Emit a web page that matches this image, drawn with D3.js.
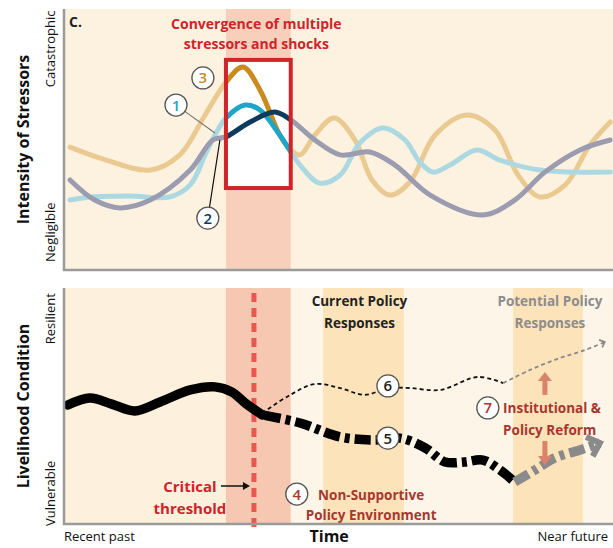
<!DOCTYPE html>
<html><head><meta charset="utf-8">
<script src="https://cdn.jsdelivr.net/npm/d3@7"></script>
<style>body{margin:0;background:#fff}svg{display:block}text{font-family:"Open Sans",sans-serif}</style>
</head><body><svg id="c" width="613" height="548"></svg>
<script>
// ---------- data ----------
const timeDomain = [0, 100];
const levelDomain = [0, 100];
const xLabels = ["Recent past", "Time", "Near future"];
const topLevels = ["Negligible", "Catastrophic"];
const bottomLevels = ["Vulnerable", "Resilient"];
// stressor 1 (blue)
const stressor1 = [[1.1,26.8],[4.7,28.0],[12.0,28.4],[19.3,28.0],[23.0,32.6],[25.7,44.1],[27.5,51.7],[29.5,58.2],[33.0,63.2],[35.7,61.3],[39.3,51.7],[43.0,40.2],[46.6,33.3],[50.3,36.4],[53.9,48.7],[58.1,54.4],[62.1,49.8],[64.8,41.4],[67.2,37.5],[70.3,40.2],[75.2,46.0],[79.4,42.1],[86.7,38.3],[99.5,37.5]];
// stressor 2 (navy)
const stressor2 = [[1.1,34.5],[5.6,26.8],[10.2,23.8],[15.7,26.8],[23.0,38.3],[27.1,49.8],[29.5,51.0],[33.9,56.7],[38.4,60.5],[41.3,57.5],[45.7,49.8],[50.3,44.1],[55.7,45.2],[60.3,40.2],[66.7,28.7],[76.3,21.1],[82.1,26.8],[87.6,37.5],[94.0,46.0],[99.5,49.8]];
// stressor 3 (tan)
const stressor3 = [[1.1,47.1],[6.6,42.9],[15.7,38.3],[21.1,44.1],[25.7,59.4],[29.5,72.0],[32.6,77.8],[35.7,69.0],[39.3,51.7],[41.3,46.0],[43.0,44.1],[45.7,51.7],[49.2,58.2],[53.0,49.8],[56.1,34.5],[59.4,28.7],[63.0,33.7],[67.6,51.7],[73.4,59.4],[78.5,53.6],[82.7,36.4],[86.7,28.0],[91.3,32.6],[95.8,47.9],[99.5,56.7]];
// livelihood
const livelihoodPast = [[0.7,50.4],[4.7,53.4],[8.7,50.8],[12.9,47.9],[17.5,51.7],[23.0,56.8],[27.5,58.1],[30.6,55.9],[33.0,51.3],[36.1,46.2]];
const livelihoodCurrent = [[36.6,46.0],[43.0,42.8],[50.3,36.9],[56.6,35.6],[61.2,36.4],[65.8,32.2],[69.4,26.3],[73.0,26.3],[76.3,27.1],[79.4,22.9],[82.1,17.8]];
const livelihoodCurrentFuture = [[82.1,17.8],[85.8,22.9],[89.4,28.0],[94.0,31.4],[97.6,34.3]];
const livelihoodAlt = [[36.1,47.0],[41.2,54.7],[45.7,59.3],[50.3,57.6],[54.8,54.7],[59.0,57.6],[63.0,57.6],[68.5,56.8],[75.4,62.3],[80.0,59.7]];
const livelihoodAltFuture = [[80.0,59.7],[84.9,65.3],[90.3,70.3],[94.9,73.7],[98.5,77.1]];
// periods
const shockWindow = [29.5, 41.3];
const thresholdTime = 34.6;
const currentPolicyBand = [47.2, 61.9];
const potentialPolicyBand = [81.8, 94.5];
const shockBoxLevels = [31.4, 80.5];
// callouts
const topCallouts = [
  {n:"1", t:20.4, v:63.2, tt:27.5, tv:52.5, color:"#1fa5c8", lead:"#777"},
  {n:"3", t:25.3, v:73.6, color:"#c98a1e"},
  {n:"2", t:26.2, v:19.9, tt:28.4, tv:49.8, color:"#0e3a5e", lead:"#111"}
];
const bottomCallouts = [
  {n:"6", t:59.0, v:58.5, color:"#222"},
  {n:"5", t:59.0, v:36.4, color:"#222"},
  {n:"4", t:42.4, v:12.7, color:"#a8372f"},
  {n:"7", t:77.2, v:49.2, color:"#a8372f"}
];

// ---------- drawing ----------
const svg = d3.select("#c");
const x = d3.scaleLinear().domain(timeDomain).range([64, 613]);
const yT = d3.scaleLinear().domain(levelDomain).range([270, 9]);
const yB = d3.scaleLinear().domain(levelDomain).range([524, 288]);
const curve = d3.curveCatmullRom.alpha(0.5);
const lineT = d3.line().x(d=>x(d[0])).y(d=>yT(d[1])).curve(curve);
const lineB = d3.line().x(d=>x(d[0])).y(d=>yB(d[1])).curve(curve);

// top panel background
svg.append("rect").attr("x", x(0)).attr("y", yT(100)).attr("width", x(100)-x(0)).attr("height", yT(0)-yT(100)).attr("fill", "#fdf2e0");
svg.append("rect").attr("x", x(shockWindow[0])).attr("y", yT(100)).attr("width", x(shockWindow[1])-x(shockWindow[0])).attr("height", yT(0)-yT(100)).attr("fill", "#f8cfbb");

const faded = [[stressor3,"#ebca92"],[stressor1,"#acd9e1"],[stressor2,"#9c9cb1"]];
faded.forEach(([d,c]) => svg.append("path").attr("d", lineT(d)).attr("fill","none").attr("stroke",c).attr("stroke-width",5).attr("stroke-linecap","round"));

// box
const bx0 = x(shockWindow[0]), bx1 = x(shockWindow[1]);
const by0 = yT(shockBoxLevels[1]), by1 = yT(shockBoxLevels[0]);
svg.append("rect").attr("x", bx0).attr("y", by0).attr("width", bx1-bx0).attr("height", by1-by0).attr("fill","#fff");
svg.append("clipPath").attr("id","boxclip").append("rect").attr("x", bx0).attr("y", by0).attr("width", bx1-bx0).attr("height", by1-by0);
const dark = [[stressor3,"#c98a1e"],[stressor1,"#1fa5c8"],[stressor2,"#0e3a5e"]];
dark.forEach(([d,c]) => svg.append("path").attr("d", lineT(d)).attr("clip-path","url(#boxclip)").attr("fill","none").attr("stroke",c).attr("stroke-width",5));
svg.append("rect").attr("x", bx0).attr("y", by0).attr("width", bx1-bx0).attr("height", by1-by0).attr("fill","none").attr("stroke","#d0232a").attr("stroke-width",4);

// callouts top
topCallouts.forEach(c => {
  if (c.tt !== undefined) {
    const ang = Math.atan2(yT(c.tv)-yT(c.v), x(c.tt)-x(c.t));
    svg.append("line").attr("x1", x(c.t)+10*Math.cos(ang)).attr("y1", yT(c.v)+10*Math.sin(ang))
      .attr("x2", x(c.tt)).attr("y2", yT(c.tv)).attr("stroke", c.lead).attr("stroke-width",1.2);
  }
  svg.append("circle").attr("cx", x(c.t)).attr("cy", yT(c.v)).attr("r", 11).attr("fill","#fff").attr("stroke","#555").attr("stroke-width",1.3);
  svg.append("text").attr("x", x(c.t)).attr("y", yT(c.v)+5.5).attr("text-anchor","middle").attr("font-size",15).attr("font-weight",600).attr("fill",c.color).text(c.n);
});

svg.append("text").attr("x", 69).attr("y", 27).attr("font-size",14).attr("font-weight",700).attr("fill","#222").text("C.");
const conv = svg.append("text").attr("text-anchor","middle").attr("font-size",14).attr("font-weight",700).attr("fill","#d0232a");
conv.append("tspan").attr("x",(bx0+bx1)/2-2).attr("y",29).text("Convergence of multiple");
conv.append("tspan").attr("x",(bx0+bx1)/2-2).attr("y",49).text("stressors and shocks");

// top axes
svg.append("path").attr("d", `M${x(0)},${yT(100)}V${yT(0)}H${x(100)}`).attr("fill","none").attr("stroke","#9a9a9a").attr("stroke-width",2.5);

// bottom panel background
svg.append("rect").attr("x", x(0)).attr("y", yB(100)).attr("width", x(100)-x(0)).attr("height", yB(0)-yB(100)).attr("fill", "#fdf0dc");
svg.append("rect").attr("x", x(shockWindow[1])).attr("y", yB(100)).attr("width", x(100)-x(shockWindow[1])).attr("height", yB(0)-yB(100)).attr("fill", "#fef5e9");
svg.append("rect").attr("x", x(shockWindow[0])).attr("y", yB(100)).attr("width", x(shockWindow[1])-x(shockWindow[0])).attr("height", yB(0)-yB(100)).attr("fill", "#f6c8b2");
[currentPolicyBand, potentialPolicyBand].forEach(b => svg.append("rect").attr("x", x(b[0])).attr("y", yB(100)).attr("width", x(b[1])-x(b[0])).attr("height", yB(0)-yB(100)).attr("fill", "#fde3ba"));

// threshold
svg.append("line").attr("x1", x(thresholdTime)).attr("x2", x(thresholdTime)).attr("y1", yB(100)+5).attr("y2", yB(0)+3).attr("stroke","#e8584f").attr("stroke-width",5).attr("stroke-dasharray","9,6");

// lines
svg.append("path").attr("d", lineB(livelihoodAlt)).attr("fill","none").attr("stroke","#111").attr("stroke-width",1.8).attr("stroke-dasharray","4,3");
svg.append("path").attr("d", lineB(livelihoodAltFuture)).attr("fill","none").attr("stroke","#8a8a8a").attr("stroke-width",1.8).attr("stroke-dasharray","4,3");
svg.append("path").attr("d", lineB(livelihoodPast)).attr("fill","none").attr("stroke","#000").attr("stroke-width",9.5).attr("stroke-linecap","round");
svg.append("path").attr("d", lineB(livelihoodCurrent)).attr("fill","none").attr("stroke","#000").attr("stroke-width",9.5).attr("stroke-dasharray","16,5,5,5");
svg.append("path").attr("d", lineB(livelihoodCurrentFuture)).attr("fill","none").attr("stroke","#8a8a8a").attr("stroke-width",9.5).attr("stroke-dasharray","16,5,5,5");

function chevron(data, len, w, color) {
  const a = data[data.length-2], b = data[data.length-1];
  const x1 = x(a[0]), y1 = yB(a[1]), x2 = x(b[0]), y2 = yB(b[1]);
  const ang = Math.atan2(y2-y1, x2-x1);
  const p1 = [x2 + len*Math.cos(ang+2.4), y2 + len*Math.sin(ang+2.4)];
  const p2 = [x2 + len*Math.cos(ang-2.4), y2 + len*Math.sin(ang-2.4)];
  svg.append("path").attr("d", `M${p1}L${x2},${y2}L${p2}`).attr("fill","none").attr("stroke",color).attr("stroke-width",w).attr("stroke-linejoin","miter");
}
chevron(livelihoodCurrentFuture, 15, 6, "#8a8a8a");
chevron(livelihoodAltFuture, 6, 1.8, "#8a8a8a");

// up/down arrows
function blockArrow(t, v0, v1) {
  const xx = x(t), ya = yB(v0), yb = yB(v1);
  const dir = Math.sign(yb - ya);
  const headStart = yb - dir*9;
  svg.append("line").attr("x1", xx).attr("x2", xx).attr("y1", ya).attr("y2", headStart).attr("stroke","#d9846a").attr("stroke-width",5);
  svg.append("path").attr("d", `M${xx-7},${headStart}L${xx+7},${headStart}L${xx},${yb}Z`).attr("fill","#d9846a");
}
blockArrow(87.6, 54.7, 64.4);
blockArrow(87.6, 35.2, 25.0);

// bottom callouts
bottomCallouts.forEach(c => {
  svg.append("circle").attr("cx", x(c.t)).attr("cy", yB(c.v)).attr("r", 11).attr("fill","#fff").attr("stroke","#555").attr("stroke-width",1.3);
  svg.append("text").attr("x", x(c.t)).attr("y", yB(c.v)+5.5).attr("text-anchor","middle").attr("font-size",15).attr("font-weight",600).attr("fill",c.color).text(c.n);
});

// bottom texts
function twoLines(cx, y, lines, opts) {
  const t = svg.append("text").attr("text-anchor", opts.anchor || "middle").attr("font-size", opts.size).attr("font-weight", opts.weight).attr("fill", opts.color);
  lines.forEach((l,i) => t.append("tspan").attr("x", cx).attr("y", y + i*opts.lh).text(l));
}
twoLines(x((currentPolicyBand[0]+currentPolicyBand[1])/2)-4, 306, ["Current Policy","Responses"], {size:13.5, weight:700, color:"#222", lh:22});
twoLines(x((potentialPolicyBand[0]+potentialPolicyBand[1])/2)+2, 306, ["Potential Policy","Responses"], {size:13.5, weight:700, color:"#8c8c8c", lh:22});
twoLines(x(thresholdTime)-64, 492, ["Critical","threshold"], {size:15, weight:700, color:"#d0232a", lh:22});
twoLines(x(currentPolicyBand[0])+48, 500, ["Non-Supportive","Policy Environment"], {size:13.5, weight:700, color:"#a8372f", lh:20});
twoLines(x(potentialPolicyBand[0])-10, 413, ["Institutional &","Policy Reform"], {size:13.5, weight:700, color:"#a8372f", lh:22, anchor:"start"});
// critical arrow
svg.append("line").attr("x1", x(thresholdTime)-33).attr("x2", x(thresholdTime)-8).attr("y1", 486).attr("y2", 486).attr("stroke","#111").attr("stroke-width",1.5);
svg.append("path").attr("d", `M${x(thresholdTime)-4},486L${x(thresholdTime)-11},482L${x(thresholdTime)-11},490Z`).attr("fill","#111");

// bottom axes
svg.append("path").attr("d", `M${x(0)},${yB(100)}V${yB(0)}H${x(100)}`).attr("fill","none").attr("stroke","#9a9a9a").attr("stroke-width",2.5);

// axis labels
function vtext(cx, cy, s, size, weight) {
  svg.append("text").attr("transform", `translate(${cx},${cy}) rotate(-90)`).attr("text-anchor","middle").attr("font-size", size).attr("font-weight", weight).attr("fill","#111").text(s);
}
vtext(29, (yT(0)+yT(100))/2, "Intensity of Stressors", 16, 700);
vtext(55, yT(84.7), topLevels[1], 13, 400);
vtext(55, yT(14.5), topLevels[0], 13, 400);
vtext(29, (yB(0)+yB(100))/2, "Livelihood Condition", 16, 700);
vtext(55, yB(87), bottomLevels[1], 13, 400);
vtext(55, yB(13), bottomLevels[0], 13, 400);

svg.append("text").attr("x", x(0)).attr("y", 541).attr("font-size", 13).attr("fill","#111").text(xLabels[0]);
svg.append("text").attr("x", x(48.3)).attr("y", 542).attr("text-anchor","middle").attr("font-size", 16).attr("font-weight",700).attr("fill","#111").text(xLabels[1]);
svg.append("text").attr("x", x(100)-5).attr("y", 541).attr("text-anchor","end").attr("font-size", 13).attr("fill","#111").text(xLabels[2]);
</script></body></html>
